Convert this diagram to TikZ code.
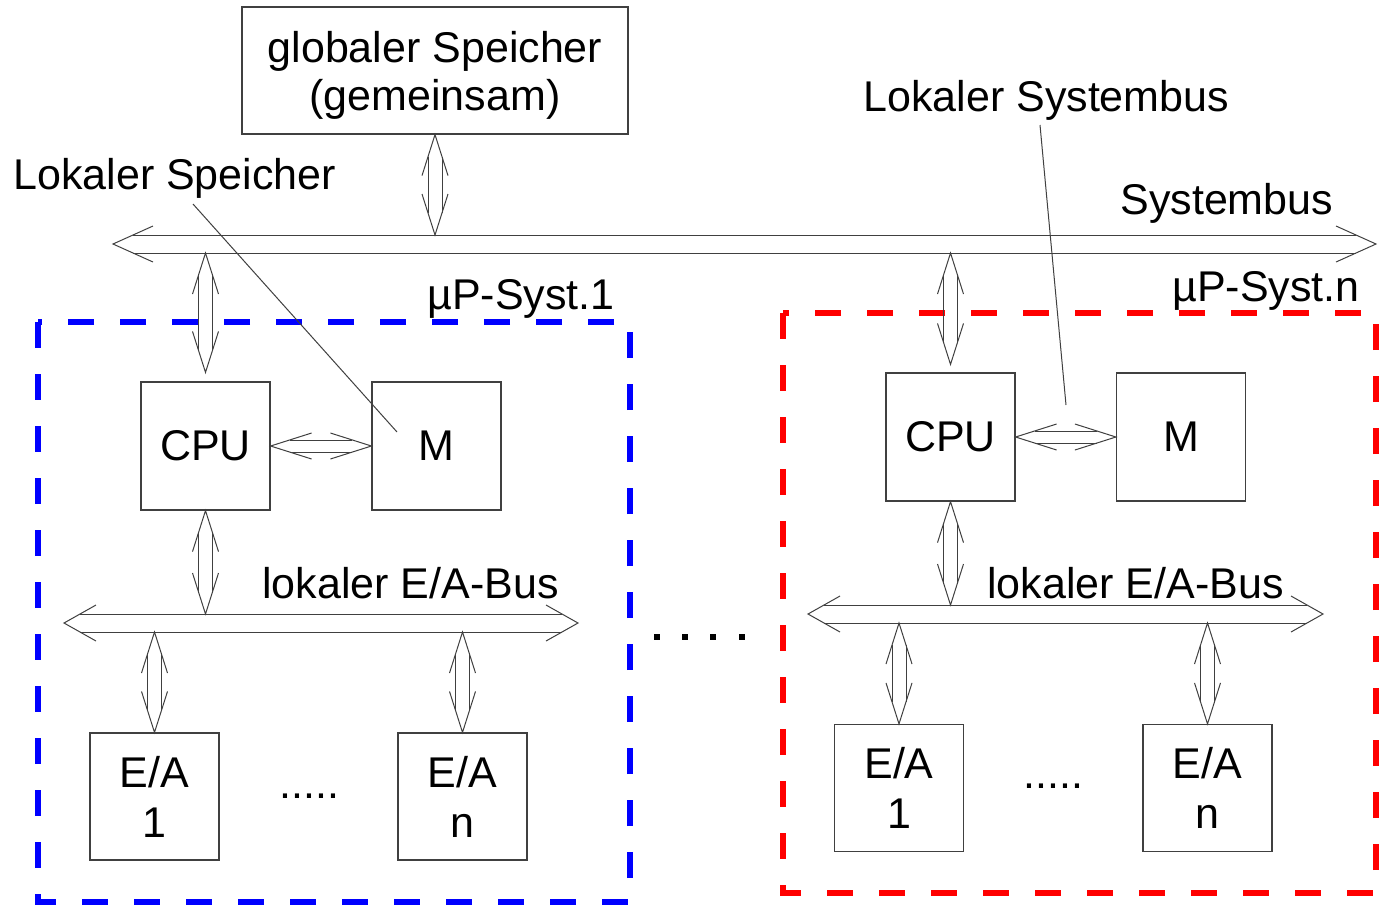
\documentclass[tikz,border=0pt]{standalone}
\usepackage{fontspec}
\setmainfont{Liberation Sans}
\usetikzlibrary{calc}

\definecolor{sysblue}{RGB}{0,0,255}
\definecolor{sysred}{RGB}{255,0,0}

\tikzset{
  box/.style={draw=black!75, line width=0.6pt, minimum width=64.5pt, minimum height=64pt, inner sep=0pt, align=center},
  lbl/.style={inner sep=0pt, anchor=base west},
  conn/.style={draw=black!75, line width=0.5pt},
  sysframe/.style={line width=3pt, dash pattern=on 13pt off 13pt},
}

% hollow double-line arrow: start, end, shaft half width, barb half width, head length (px)
\newcommand{\dblarrow}[5]{%
  \draw[conn] ($(#1)!#5*0.5pt!(#2)!#4*0.5pt!90:(#2)$) -- (#1) -- ($(#1)!#5*0.5pt!(#2)!#4*0.5pt!-90:(#2)$);
  \draw[conn] ($(#2)!#5*0.5pt!(#1)!#4*0.5pt!90:(#1)$) -- (#2) -- ($(#2)!#5*0.5pt!(#1)!#4*0.5pt!-90:(#1)$);
  \draw[conn] ($(#1)!#5*#3/#4*0.5pt!(#2)!#3*0.5pt!90:(#2)$) -- ($(#2)!#5*#3/#4*0.5pt!(#1)!#3*0.5pt!-90:(#1)$);
  \draw[conn] ($(#1)!#5*#3/#4*0.5pt!(#2)!#3*0.5pt!-90:(#2)$) -- ($(#2)!#5*#3/#4*0.5pt!(#1)!#3*0.5pt!90:(#1)$);
}

\begin{document}
\begin{tikzpicture}[x=0.5pt, y=-0.5pt, every node/.style={font=\fontsize{21.5}{25}\selectfont}]
  \fill[white] (0,0) rectangle (1379,907);
  \useasboundingbox (0,0) rectangle (1379,907);

  % frames of the two microprocessor systems
  \draw[sysframe, sysblue] (38,322) rectangle (630,902);
  \draw[sysframe, sysred] (783,313) rectangle (1376,893);

  % boxes
  \node[box, minimum width=193pt, minimum height=63.5pt] (gs) at (435,70.5) {\rule{0pt}{20pt}globaler Speicher\\[-1pt](gemeinsam)};
  \node[box] (cpu1) at (205.5,446) {CPU};
  \node[box] (m1) at (436.5,446) {M};
  \node[box] (cpun) at (950.5,437) {CPU};
  \node[box] (mn) at (1181,437) {M};
  \node[box, minimum height=63.5pt] (ea11) at (154.5,796.5) {E/A\\1};
  \node[box, minimum height=63.5pt] (ea1n) at (462.5,796.5) {E/A\\n};
  \node[box, minimum height=63.5pt] (ean1) at (899,788) {E/A\\1};
  \node[box, minimum height=63.5pt] (eann) at (1207.5,788) {E/A\\n};

  % labels
  \node[lbl] (lsp) at (13,189) {Lokaler Speicher};
  \node[lbl] (lsb) at (863,111) {Lokaler Systembus};
  \node[lbl] (sb) at (1120,214) {Systembus};
  \node[lbl] (sys1) at (427,309) {µP-Syst.1};
  \node[lbl] (sysn) at (1172,301) {µP-Syst.n};
  \node[lbl] (eab1) at (262,598) {lokaler E/A-Bus};
  \node[lbl] (eabn) at (987,598) {lokaler E/A-Bus};
  \node[lbl] (dots1) at (279,798) {.....};
  \node[lbl] (dotsn) at (1023,788) {.....};
  \foreach \x in {657,685,713,742}
    \fill (\x-3,634) rectangle (\x+3,640);

  % bus ends and shaft edges
  \coordinate (sbL) at (113,244);
  \coordinate (sbR) at (1376,244);
  \coordinate (sbtop) at (0,235);
  \coordinate (sbbot) at (0,253);
  \coordinate (lb1L) at (64,623);
  \coordinate (lb1R) at (578,623);
  \coordinate (lb1top) at (0,614);
  \coordinate (lb1bot) at (0,632);
  \coordinate (lbnL) at (808,614);
  \coordinate (lbnR) at (1323,614);
  \coordinate (lbntop) at (0,605);
  \coordinate (lbnbot) at (0,623);

  % buses
  \dblarrow{sbL}{sbR}{9}{18}{40}
  \dblarrow{lb1L}{lb1R}{9}{18}{32}
  \dblarrow{lbnL}{lbnR}{9}{18}{32}

  % taps
  \coordinate (gsbus) at (gs.south |- sbtop);
  \coordinate (c1bus) at (cpu1.north |- sbbot);
  \coordinate (c1in) at ($(cpu1.north)+(0,-9)$);
  \coordinate (cnbus) at (cpun.north |- sbbot);
  \coordinate (cnin) at ($(cpun.north)+(0,-8)$);
  \coordinate (c1lb) at (cpu1.south |- lb1top);
  \coordinate (cnlb) at (cpun.south |- lbntop);
  \coordinate (e11lb) at (ea11.north |- lb1bot);
  \coordinate (e1nlb) at (ea1n.north |- lb1bot);
  \coordinate (en1lb) at (ean1.north |- lbnbot);
  \coordinate (ennlb) at (eann.north |- lbnbot);

  \dblarrow{gs.south}{gsbus}{7}{13}{41}
  \dblarrow{c1bus}{c1in}{7}{13}{41}
  \dblarrow{cnbus}{cnin}{7}{13}{41}
  \dblarrow{cpu1.east}{m1.west}{6}{13}{41}
  \dblarrow{cpun.east}{mn.west}{6}{13}{41}
  \dblarrow{cpu1.south}{c1lb}{7}{13}{41}
  \dblarrow{cpun.south}{cnlb}{7}{13}{41}
  \dblarrow{e11lb}{ea11.north}{7}{13}{41}
  \dblarrow{e1nlb}{ea1n.north}{7}{13}{41}
  \dblarrow{en1lb}{ean1.north}{7}{13}{41}
  \dblarrow{ennlb}{eann.north}{7}{13}{41}

  % pointer lines
  \coordinate (lspfrom) at (193,204);
  \coordinate (lspto) at (397,432);
  \coordinate (lsbfrom) at (1040,125);
  \coordinate (lsbto) at (1066,405);
  \draw[conn] (lspfrom) -- (lspto);
  \draw[conn] (lsbfrom) -- (lsbto);
\end{tikzpicture}
\end{document}
